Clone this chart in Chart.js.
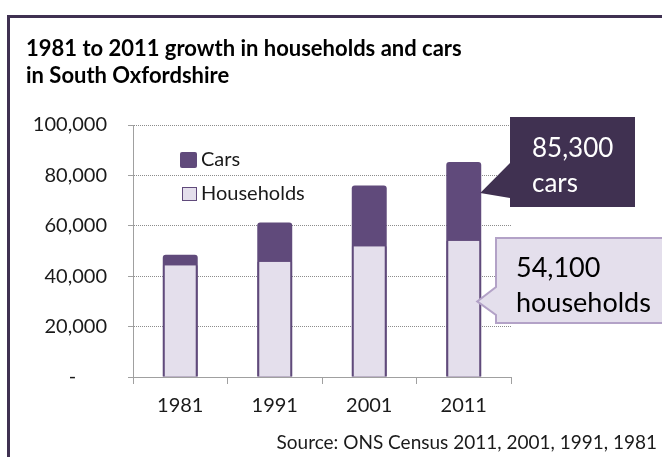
<!DOCTYPE html>
<html>
<head>
<meta charset="utf-8">
<script src="https://cdn.jsdelivr.net/npm/chart.js@4.4.1/dist/chart.umd.min.js"></script>
<style>
html, body { margin: 0; padding: 0; background: #fff; }
#wrap { position: relative; width: 662px; height: 457px; overflow: hidden; }
#frame { position: absolute; left: 7px; top: 15px; width: 720px; height: 520px; border: 3px solid #3f3151; }
#chart { position: absolute; left: 0; top: 0; }
</style>
</head>
<body>
<div id="wrap">
  <div id="frame"></div>
  <canvas id="chart" width="662" height="457"></canvas>
</div>
<script>
// values
var years = ['1981', '1991', '2001', '2011'];
var cars = [48500, 61300, 76000, 85300];
var households = [44300, 45700, 51900, 54100];
var titleLines = ['1981 to 2011 growth in households and cars', 'in South Oxfordshire'];
var sourceText = 'Source: ONS Census 2011, 2001, 1991, 1981';
var carsNote = ['85,300', 'cars'];
var householdsNote = ['54,100', 'households'];

var purple = '#604a7b';
var lilac = '#e4dfec';

Chart.defaults.font.family = 'Lato';
Chart.defaults.color = '#1a1a1a';

// title, legend, callouts and source line
var extras = {
  id: 'extras',
  afterDraw: function(chart) {
    var ctx = chart.ctx;
    ctx.save();
    ctx.fillStyle = '#000';
    ctx.textAlign = 'left';
    ctx.textBaseline = 'alphabetic';
    ctx.font = 'bold 22px Lato';
    ctx.fillText(titleLines[0], 26, 56);
    ctx.fillText(titleLines[1], 26, 83);

    // legend
    ctx.fillStyle = purple;
    ctx.beginPath();
    ctx.roundRect(180, 152, 17, 16, 2);
    ctx.fill();
    ctx.fillStyle = lilac;
    ctx.strokeStyle = purple;
    ctx.lineWidth = 1;
    ctx.fillRect(182.5, 187.5, 14, 13);
    ctx.strokeRect(182.5, 187.5, 14, 13);
    ctx.fillStyle = '#1a1a1a';
    ctx.font = '20px Lato';
    ctx.textBaseline = 'middle';
    ctx.fillText(chart.data.datasets[0].label, 201, 160);
    ctx.fillText(chart.data.datasets[1].label, 201, 194);

    // callouts point at the 2011 bar
    var meta = chart.getDatasetMeta(0);
    var bar = meta.data[3];
    var tipX = bar.x + bar.width / 2 - 1;
    var y = chart.scales.y;

    ctx.fillStyle = '#403151';
    ctx.beginPath();
    ctx.moveTo(510, 117);
    ctx.lineTo(635, 117);
    ctx.lineTo(635, 207);
    ctx.lineTo(510, 207);
    ctx.lineTo(510, 198);
    ctx.lineTo(tipX, y.getPixelForValue(73000));
    ctx.lineTo(510, 163);
    ctx.closePath();
    ctx.fill();
    ctx.fillStyle = '#fff';
    ctx.font = '26px Lato';
    ctx.textBaseline = 'alphabetic';
    ctx.fillText(carsNote[0], 532, 157);
    ctx.fillText(carsNote[1], 532, 192);

    ctx.fillStyle = lilac;
    ctx.strokeStyle = '#b3a2c7';
    ctx.lineWidth = 2;
    ctx.beginPath();
    ctx.moveTo(496, 238);
    ctx.lineTo(680, 238);
    ctx.lineTo(680, 323);
    ctx.lineTo(496, 323);
    ctx.lineTo(496, 315);
    ctx.lineTo(tipX - 3, y.getPixelForValue(30000));
    ctx.lineTo(496, 287);
    ctx.closePath();
    ctx.fill();
    ctx.stroke();
    ctx.fillStyle = '#000';
    ctx.font = '27px Lato';
    ctx.fillText(householdsNote[0], 516, 277);
    ctx.fillText(householdsNote[1], 516, 312);

    ctx.font = '19px Lato';
    ctx.textAlign = 'right';
    ctx.fillStyle = '#1a1a1a';
    ctx.fillText(sourceText, 657, 449);
    ctx.restore();
  }
};

new Chart('chart', {
  type: 'bar',
  data: {
    labels: years,
    datasets: [{
      label: 'Cars',
      data: cars,
      backgroundColor: purple,
      borderRadius: {topLeft: 3, topRight: 3},
      grouped: false,
      order: 2
    }, {
      label: 'Households',
      data: households,
      backgroundColor: lilac,
      borderColor: purple,
      borderWidth: {left: 2, right: 2, top: 0, bottom: 0},
      grouped: false,
      order: 1
    }]
  },
  options: {
    responsive: false,
    animation: false,
    layout: {padding: {left: 0, top: 125, right: 151, bottom: 0}},
    datasets: {bar: {barPercentage: 0.37, categoryPercentage: 1}},
    plugins: {
      legend: {display: false},
      title: {display: false},
      tooltip: {enabled: false}
    },
    scales: {
      x: {
        afterFit: function(s) { s.height = 80; },
        grid: {offset: true, drawOnChartArea: false, tickLength: 7, tickColor: '#a0a0a0'},
        border: {color: '#a0a0a0', width: 1},
        ticks: {font: {size: 20}, padding: 10, color: '#1a1a1a'}
      },
      y: {
        min: 0,
        max: 100000,
        afterFit: function(s) { s.width = 133; },
        grid: {
          color: function(c) { return c.tick && c.tick.value === 0 ? 'rgba(0,0,0,0)' : '#8c8c8c'; },
          tickColor: '#a0a0a0',
          tickLength: 5
        },
        border: {color: '#a0a0a0', width: 1, dash: [1, 1]},
        ticks: {
          stepSize: 20000,
          padding: 21,
          font: {size: 20},
          color: '#1a1a1a',
          callback: function(v) { return v === 0 ? '-      ' : v.toLocaleString('en-US'); }
        }
      }
    }
  },
  plugins: [extras]
});
</script>
</body>
</html>
